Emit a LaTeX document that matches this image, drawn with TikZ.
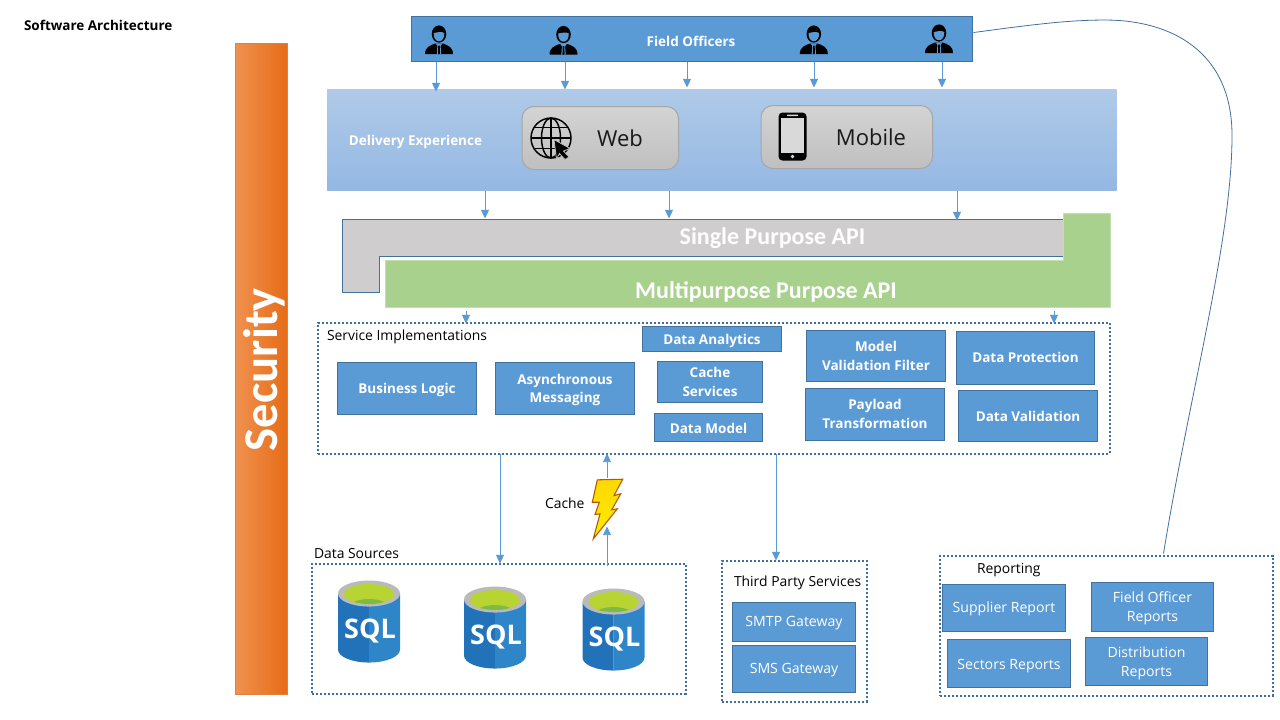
\documentclass[tikz,border=0pt]{standalone}
\usepackage{fontspec}
\setmainfont{Open Sans}
\newfontfamily\calfont{Carlito}
\usetikzlibrary{arrows.meta,shadings}
\definecolor{fieldblue}{HTML}{5B9BD5}
\definecolor{edgeblue}{HTML}{41719C}
\definecolor{dotblue}{HTML}{3F6F9F}
\definecolor{apigrey}{HTML}{CFCDCD}
\definecolor{apigreen}{HTML}{A9D18E}
\definecolor{sqlL}{HTML}{2272B9}
\definecolor{sqlR}{HTML}{2E86C8}
\definecolor{sqlG}{HTML}{B8D432}
\definecolor{sqlD}{HTML}{7FBA42}
\definecolor{secL}{HTML}{F0914F}
\definecolor{secM}{HTML}{F47C23}
\definecolor{secR}{HTML}{E66C17}
\definecolor{secE}{HTML}{E0823F}
\newcommand{\pxsize}[1]{\fontsize{\dimexpr#1pt*3/4\relax}{\dimexpr#1pt*1018/1000\relax}\selectfont}
% node spanning pixel corners: name, x1, y1, x2, y2, style, text
\newcommand{\pxbox}[7]{\node[#6,minimum width={(#4-#2-0.5)*0.75pt},minimum height={(#5-#3)*0.75pt}] (#1) at ({(#2+#4-0.5)/2},{(#3+#5)/2}) {#7};}
% box with its text lowered by a few pixels: name, x1, y1, x2, y2, text style, drop, text
\newcommand{\txbox}[8]{\node[bluebox,minimum width={(#4-#2-0.5)*0.75pt},minimum height={(#5-#3)*0.75pt}] (#1) at ({(#2+#4-0.5)/2},{(#3+#5)/2}) {};
  \node[#6] (#1-label) at ({(#2+#4)/2},{(#3+#5)/2+#7-0.5}) {#8};}
\tikzset{
  every node/.style={inner sep=0pt,outer sep=0pt,align=center},
  bluebox/.style={draw=edgeblue,fill=fieldblue,line width=0.75pt},
  bb/.style={text=white,font=\pxsize{13.5}\bfseries},
  bn/.style={text=white,font=\pxsize{14.1}},
  dotbox/.style={draw=dotblue,line width=1.5pt,dash pattern=on 1.5pt off 1.5pt},
  caption/.style={anchor=west,font=\pxsize{13.9},text=black},
  flow/.style={draw=fieldblue,line width=0.7pt,-{Triangle[length=6.5pt,width=6pt]}},
  btn/.style={draw=black!35,line width=0.75pt,rounded corners=9pt,top color=black!17,bottom color=black!25},
  btntext/.style={font=\pxsize{22},text=black!90},
  person/.pic={
    \fill[black] (-14,20) .. controls (-14,13) and (-9,11.5) .. (-4,9.5) -- (4,9.5) .. controls (9,11.5) and (14,13) .. (14,20) -- cycle;
    \fill[fieldblue] (-3.2,9.5) -- (0,14) -- (3.2,9.5) -- cycle;
    \fill[fieldblue] (-1.5,11) -- (-2.2,20) -- (-1.2,20) -- (0,14) -- (1.2,20) -- (2.2,20) -- (1.5,11) -- cycle;
    \fill[black] (-0.9,11.5) -- (0.9,11.5) -- (1,18) -- (0,20) -- (-1,18) -- cycle;
    \fill[black] (0,0) ellipse [x radius=7.3,y radius=8.6];
    \fill[fieldblue] (-5.3,-1) .. controls (-2,-1.5) and (2,-3) .. (5.3,-1) .. controls (5.6,4) and (3,7.2) .. (0,7.2) .. controls (-3,7.2) and (-5.6,4) .. (-5.3,-1) -- cycle;
  },
  sqldb/.pic={
    \fill[fill=sqlL] (-31,13) -- (-31,69) .. controls (-31,76.2) and (-17.1,82) .. (0,82) -- (0,13) -- cycle;
    \fill[fill=sqlR] (31,13) -- (31,69) .. controls (31,76.2) and (17.1,82) .. (0,82) -- (0,13) -- cycle;
    \fill[fill=black!27] (0,13) ellipse [x radius=31,y radius=13];
    \fill[fill=sqlG] (0,13.5) ellipse [x radius=25,y radius=10];
    \begin{scope}
      \clip (0,13.5) ellipse [x radius=25,y radius=10];
      \fill[fill=sqlD] (0,26) ellipse [x radius=19,y radius=7.5];
    \end{scope}
    \node[font=\bfseries\pxsize{27},text=white] (-t) at (1,50) {SQL};
  },
}
\begin{document}
\begin{tikzpicture}[x=0.75pt,y=-0.75pt]
\useasboundingbox (0,0) rectangle (1280,720);
\fill[white] (0,0) rectangle (1280,720);
\begin{scope}[yshift=-0.4pt]

\node[anchor=west,font=\pxsize{13.5}\bfseries,text=black] (title) at (24,25) {Software Architecture};

% Security bar
\pxbox{security}{235}{43}{288}{694}{left color=secL,middle color=secM,right color=secR,draw=secE}{}
\node[rotate=90,font=\calfont\bfseries\pxsize{48.6},text=white] (securitytext) at (264,369) {Security};

% Field officers
\pxbox{fo}{411}{16}{973}{61}{bluebox}{}
\node[font=\pxsize{13.5}\bfseries,text=white] (fotext) at (691,41) {Field Officers};
\pic at (439,33.5) {person};
\pic at (563.5,34) {person};
\pic at (813.8,33.5) {person};
\pic at (939,32.5) {person};

% Delivery
\pxbox{delivery}{327}{89}{1117}{190}{top color={rgb,255:red,176;green,202;blue,232},bottom color={rgb,255:red,148;green,184;blue,227}}{}
\node[font=\pxsize{13.5}\bfseries,text=white] (deltext) at (415.5,141.5) {Delivery Experience};
\pxbox{web}{522}{106}{679}{169}{btn}{}
\node[btntext] (webtext) at (620,138) {Web};
\pxbox{mobile}{761}{105}{933}{168}{btn}{}
\node[btntext] (mobiletext) at (871,137) {Mobile};

% globe
\begin{scope}[line width=1.1pt,draw=black]
  \draw (551,137.5) circle [x radius=20,y radius=20];
  \draw (551,137.5) ellipse [x radius=9.5,y radius=20];
  \draw (551,117.5) -- (551,157.5);
  \draw (531,137.5) -- (571,137.5);
  \draw (534.5,127) -- (567.5,127);
  \draw (534.5,148) -- (567.5,148);
\end{scope}
\fill[black,draw=black!25,line width=0.6pt] (554,139) -- (570,148) -- (563.5,150.5) -- (569,156.5) -- (565,159) -- (559.5,153) -- (556.5,158.5) -- cycle;
% phone
\fill[black,rounded corners=3pt] (778.5,112) rectangle (806.5,160);
\fill[black!15] (781,117.5) rectangle (804,152);
\fill[black!15,rounded corners=.5pt] (787,114) rectangle (798,115.7);
\fill[black!15] (792.5,156) circle [radius=1.9];

% API shapes
\draw[fill=apigrey,draw=edgeblue,line width=0.75pt] (342,218.5) -- (1064,218.5) -- (1064,255.5) -- (379.5,255.5) -- (379.5,292) -- (342,292) -- cycle;
\draw[fill=apigreen,draw=apigreen!70!white,line width=0.75pt] (385,260) -- (1063.5,260) -- (1063.5,213) -- (1110.5,213) -- (1110.5,307) -- (385,307) -- cycle;
\node[font=\calfont\bfseries\pxsize{24},text=white] (single) at (772.5,237.5) {Single Purpose API};
\node[font=\calfont\bfseries\pxsize{24},text=white] (multi) at (766,291.5) {Multipurpose Purpose API};
\coordinate (multibottom) at (766,307);

% Service implementations
\pxbox{service}{318}{322}{1110}{453}{dotbox}{}
\node[caption] (servicecap) at (327,336.5) {Service Implementations};
\txbox{analytics}{642}{326}{782}{351}{bb}{2}{Data Analytics}
\txbox{logic}{337}{362}{477}{414}{bb}{2}{Business Logic}
\txbox{async}{495}{362}{635}{414}{bb}{2}{Asynchronous\\Messaging}
\txbox{cachesvc}{657}{361}{763}{402}{bb}{0.5}{Cache\\Services}
\txbox{model}{654}{413}{763}{441}{bb}{1}{Data Model}
\txbox{filter}{806}{330}{946}{381}{bb}{0.5}{Model\\Validation Filter}
\txbox{protect}{956}{331}{1095}{384}{bb}{0}{Data Protection}
\txbox{payload}{805}{388}{945}{440}{bb}{0}{Payload\\Transformation}
\txbox{validation}{958}{390}{1098}{441}{bb}{1}{Data Validation}

% Data sources
\pxbox{sources}{312}{563}{686}{693}{dotbox}{}
\node[caption] (sourcescap) at (314,552.5) {Data Sources};
\pic (dba) at (369,580) {sqldb};
\pic (dbb) at (495,586) {sqldb};
\pic (dbc) at (613.5,588) {sqldb};

% Cache
\node[caption] (cachelabel) at (545,502.5) {Cache};
\draw[line width=0.8pt,draw=orange!70!black,top color=yellow!70!orange,middle color=orange,bottom color=yellow!85!orange] (597.3,479.3) -- (622.7,478.7) -- (614,495) -- (620.7,493.3) -- (611.7,509.3) -- (617.3,508.3) -- (593.3,538.3) -- (600,513.3) -- (595,514) -- (599.3,501.7) -- (592.3,501.7) -- cycle;

% Third party
\pxbox{third}{722}{560}{867}{701}{dotbox}{}
\node[caption] (thirdcap) at (734,582.5) {Third Party Services};
\txbox{smtp}{732}{602}{856}{641}{bn}{1.5}{SMTP Gateway}
\txbox{sms}{732}{645}{856}{692}{bn}{1.5}{SMS Gateway}

% Reporting
\pxbox{reporting}{940}{555}{1273}{695}{dotbox}{}
\node[caption] (reportingcap) at (977,569.5) {Reporting};
\txbox{supplier}{942}{584}{1066}{631}{bn}{1.5}{Supplier Report}
\txbox{officer}{1091}{582}{1214}{631}{bn}{2}{Field Officer\\Reports}
\txbox{sectors}{947}{639}{1071}{687}{bn}{3}{Sectors Reports}
\txbox{distribution}{1085}{637}{1208}{685}{bn}{2}{Distribution\\Reports}

% Connectors
\coordinate (d1) at (436,91); \coordinate (d2) at (565,89); \coordinate (d3) at (687,87); \coordinate (d4) at (814,87); \coordinate (d5) at (942,87);
\foreach \c in {d1,d2,d3,d4,d5} \draw[flow] (fo.south -| \c) -- (\c);
\coordinate (s1) at (485,218); \coordinate (s2) at (669,218); \coordinate (s3) at (957,220);
\foreach \c in {s1,s2,s3} \draw[flow] (delivery.south -| \c) -- (\c);
\coordinate (m1) at (466,323); \coordinate (m2) at (1054,323);
\foreach \c in {m1,m2} \draw[flow] (multibottom -| \c) ++(0,3) -- (\c);
\coordinate (r1) at (500,563);
\draw[flow] (service.south -| r1) -- (r1);
\coordinate (r2) at (776,560);
\draw[flow] (service.south -| r2) -- (r2);
\coordinate (cacheUp) at (607,526); \coordinate (cacheTop) at (607,453); \coordinate (boltTop) at (607,477);
\draw[flow] (sources.north -| cacheUp) ++(0,2) -- (cacheUp);
\draw[flow] (boltTop) -- (cacheTop);
\coordinate (cs) at (973.5,32); \coordinate (ce) at (1163.5,553);
\draw[draw=edgeblue,line width=0.6pt] (cs) .. controls (1040,23) and (1070,19.6) .. (1105,19.5) .. controls (1170,19.5) and (1232,50) .. (1232,135) .. controls (1232,240) and (1190,390) .. (ce);
\end{scope}
\end{tikzpicture}
\end{document}
